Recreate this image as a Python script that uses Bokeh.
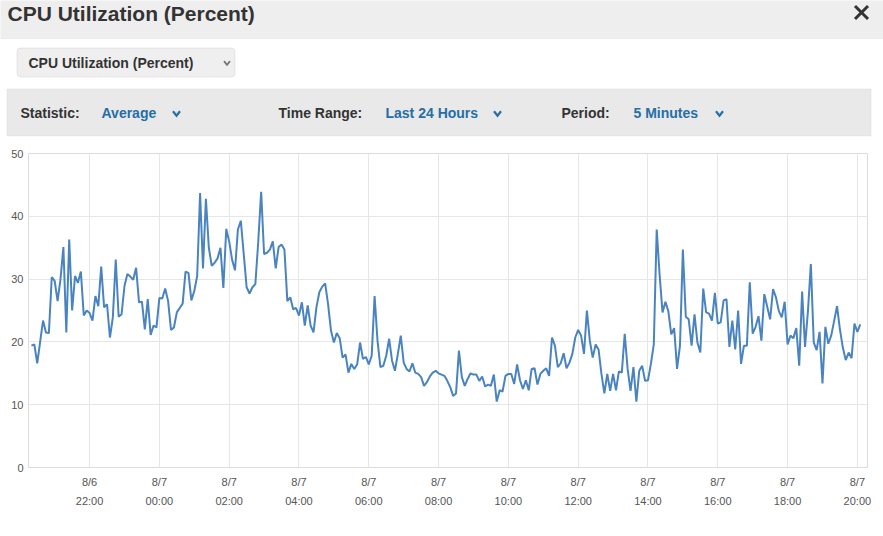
from bokeh.plotting import figure
from bokeh.layouts import column, row
from bokeh.models import Label, BoxAnnotation, FixedTicker, Range1d
from bokeh.embed import file_html
from bokeh.resources import INLINE

# ---- data (CPU utilization, %, 5-minute averages starting 8/6 20:20) ----
start_hour = 20 + 20 / 60
step_minutes = 5
cpu_evening = [19.4, 19.6, 16.6, 20.0, 23.4, 21.5, 21.4, 30.3, 29.7, 26.5,
               30.0, 35.1, 21.5, 36.3, 25.0, 30.5, 29.4, 31.2, 24.2, 25.0,
               24.6, 23.4, 27.3, 25.7, 32.0, 25.5, 26.0, 20.7, 23.9, 33.1,
               24.0, 24.4, 28.9, 30.8, 30.4, 29.9, 31.8, 26.3, 26.4, 22.0,
               26.8, 21.1, 22.6, 22.3, 27.0, 26.9, 28.5, 26.5, 21.9, 22.3,
               24.7, 25.4, 26.1, 31.2, 31.0, 26.6, 28.1, 30.5, 43.7, 31.7,
               42.8, 35.0, 32.1, 32.6, 33.3, 35.0, 28.6, 38.0, 36.0, 33.1,
               31.4, 37.9, 39.3, 34.0, 28.7, 27.7, 28.7, 29.2, 36.0, 43.9,
               34.0, 34.2, 34.7, 36.0, 31.7, 35.1, 35.5, 34.7, 26.5, 27.1,
               25.2, 25.4, 24.2, 26.3, 22.6]
cpu_morning = [25.8, 22.6, 21.5, 25.5, 27.9, 28.8, 29.3, 26.0, 21.8, 19.9,
               21.4, 20.6, 17.5, 18.0, 15.1, 16.5, 15.7, 16.4, 19.9, 17.3,
               17.6, 16.4, 17.8, 27.3, 20.2, 16.0, 16.2, 17.8, 20.5, 17.0,
               15.4, 18.1, 21.0, 16.7, 15.7, 15.3, 16.6, 15.1, 14.9, 14.4,
               13.0, 13.6, 14.5, 15.1, 15.4, 15.0, 14.8, 14.6, 13.8, 12.8,
               11.4, 11.8, 18.6, 14.4, 13.0, 14.1, 15.0, 14.8, 14.8, 13.8,
               14.5, 12.9, 13.2, 13.0, 14.8, 10.5, 12.3, 12.1, 14.6, 14.9,
               14.9, 13.3, 16.4, 13.9, 12.5, 13.9, 12.3, 15.7, 15.8, 13.2,
               14.9, 15.4, 15.8, 14.6, 20.7, 19.4, 16.0, 16.6, 18.2, 15.8,
               16.7, 18.1, 20.7, 21.9, 21.0, 18.1, 25.0]
cpu_afternoon = [20.2, 17.5, 19.6, 18.8, 14.9, 11.8, 14.9, 12.2, 14.9, 12.3,
                 15.3, 15.1, 21.3, 15.7, 12.2, 16.0, 10.5, 15.4, 16.2, 13.8,
                 13.9, 16.5, 19.6, 37.9, 30.7, 24.7, 26.4, 24.9, 21.2, 22.2,
                 15.7, 19.4, 34.7, 24.0, 23.6, 19.4, 24.4, 19.9, 18.3, 28.5,
                 24.7, 24.5, 23.4, 27.8, 22.9, 23.1, 26.6, 26.8, 19.2, 23.4,
                 18.8, 25.0, 16.5, 19.4, 19.4, 29.5, 21.3, 22.4, 24.1, 20.2,
                 27.6, 25.6, 23.6, 28.4, 27.1, 24.9, 23.9, 26.4, 19.6, 21.0,
                 20.6, 22.2, 16.2, 28.0, 19.2, 24.9, 32.4, 19.9, 18.7, 21.6,
                 13.4, 22.4, 19.7, 21.0, 23.3, 25.7, 22.0, 19.1, 17.1, 18.3,
                 17.4, 22.9, 21.6, 22.8]
cpu = cpu_evening + cpu_morning + cpu_afternoon
hours = [start_hour + i * step_minutes / 60 for i in range(len(cpu))]

tick_hours = [22, 24, 26, 28, 30, 32, 34, 36, 38, 40, 42, 44]
tick_labels = ["8/6\n22:00", "8/7\n00:00", "8/7\n02:00", "8/7\n04:00",
               "8/7\n06:00", "8/7\n08:00", "8/7\n10:00", "8/7\n12:00",
               "8/7\n14:00", "8/7\n16:00", "8/7\n18:00", "8/7\n20:00"]
y_ticks = [0, 10, 20, 30, 40, 50]

# ---- layout ----
W = 883
HEAD_H = 145
CHART_H = 391
FONT = "Liberation Sans"
BLUE = "#266ea6"
DARK = "#333333"

# ---------- header (dialog chrome) ----------
hdr = figure(width=W, height=HEAD_H, output_backend="svg", toolbar_location=None,
             x_range=Range1d(0, W), y_range=Range1d(HEAD_H, 0),
             x_axis_location=None, y_axis_location=None,
             min_border=0, min_border_left=0, min_border_right=0,
             min_border_top=0, min_border_bottom=0)
hdr.outline_line_color = None
hdr.grid.visible = False
hdr.background_fill_color = "white"
hdr.border_fill_color = "white"


def box(l, t, r, b, fill, line, radius=0):
    hdr.add_layout(BoxAnnotation(left=l, right=r, top=t, bottom=b,
                                 fill_color=fill, fill_alpha=1.0,
                                 line_color=line, line_width=1,
                                 border_radius=radius, level="underlay"))


def text(x, y, s, size, color, bold=False, align="left", baseline="middle"):
    hdr.add_layout(Label(x=x, y=y, text=s, text_font=FONT,
                         text_font_size=f"{size}px",
                         text_font_style="bold" if bold else "normal",
                         text_color=color, text_align=align,
                         text_baseline=baseline))


def chevron(cx, cy, color, half=3.5, h=2.2, width=2.2):
    hdr.line([cx - half, cx, cx + half], [cy - h, cy + h, cy - h],
             line_color=color, line_width=width, line_join="miter")


box(-2, -2, W + 2, 38, "#eeeeee", "#cfcfcf")
text(7, 12.5, "CPU Utilization (Percent)", 21, DARK, bold=True)
# close icon
hdr.multi_line([[854.5, 867.5], [867.5, 854.5]], [[5.5, 18.5], [5.5, 18.5]],
               line_color=DARK, line_width=3)

box(16.5, 47.5, 234.5, 76.5, "#efefef", "#b8b8b8", radius=4)
text(28, 62, "CPU Utilization (Percent)", 14, DARK, bold=True)
chevron(226.5, 62.5, "#777777", half=3, h=1.8, width=1.8)

box(6.5, 88.5, 870.5, 135.5, "#e9e9e9", "#d0d0d0")
text(20, 112.5, "Statistic:", 14, DARK, bold=True)
text(101, 112.5, "Average", 14, BLUE, bold=True)
chevron(176, 113, BLUE)
text(278, 112.5, "Time Range:", 14, DARK, bold=True)
text(385, 112.5, "Last 24 Hours", 14, BLUE, bold=True)
chevron(497, 113, BLUE)
text(561, 112.5, "Period:", 14, DARK, bold=True)
text(633, 112.5, "5 Minutes", 14, BLUE, bold=True)
chevron(719, 113, BLUE)

# ---------- chart ----------
FL, FR = 28, 867
FT, FB = 8, 322
p = figure(width=W, height=CHART_H, output_backend="svg", toolbar_location=None,
           x_range=Range1d(20.25, 44.29), y_range=Range1d(0, 50),
           min_border_left=FL, min_border_right=W - FR,
           min_border_top=FT, min_border_bottom=CHART_H - FB)
p.background_fill_color = "white"
p.border_fill_color = "white"
p.outline_line_color = "#dcdcdc"

p.line(hours, cpu, line_color="#4a84c0", line_width=2)

p.xaxis.ticker = FixedTicker(ticks=tick_hours)
p.xaxis.major_label_overrides = dict(zip(tick_hours, tick_labels))
p.yaxis.ticker = FixedTicker(ticks=y_ticks)
for ax in (p.xaxis, p.yaxis):
    ax.axis_line_color = None
    ax.major_tick_line_color = None
    ax.minor_tick_line_color = None
    ax.major_tick_out = 0
    ax.major_tick_in = 0
    ax.minor_tick_out = 0
    ax.minor_tick_in = 0
    ax.major_label_text_font = FONT
    ax.major_label_text_font_size = "11px"
    ax.major_label_text_color = "#555555"
p.xaxis.major_label_standoff = 8
p.xaxis.major_label_text_line_height = 1.6
p.yaxis.major_label_standoff = 5
p.xgrid.grid_line_color = "#e6e6e6"
p.ygrid.grid_line_color = "#e6e6e6"

layout = column(row(hdr), row(p), spacing=0)
open("out.html", "w").write(file_html(layout, INLINE))
